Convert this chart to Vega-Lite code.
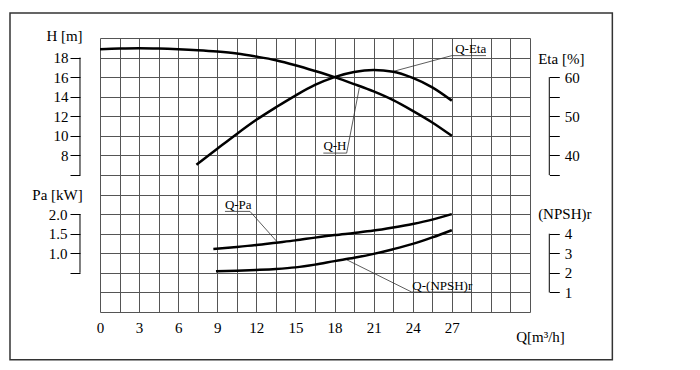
{
  "$schema": "https://vega.github.io/schema/vega-lite/v6.json",
  "width": 430,
  "height": 274,
  "autosize": {"type": "none"},
  "padding": {"left": 100, "top": 38, "right": 170, "bottom": 58},
  "background": "white",
  "config": {
    "view": {"stroke": null},
    "font": "Liberation Serif",
    "axis": {
      "labelFont": "Liberation Serif",
      "titleFont": "Liberation Serif",
      "labelColor": "black",
      "titleColor": "black",
      "labelFontSize": 15,
      "titleFontSize": 15,
      "titleFontWeight": "normal",
      "tickColor": "black",
      "tickWidth": 1,
      "titleAngle": 0,
      "labelOverlap": false,
      "labelFlush": false,
      "tickCount": 100
    },
    "text": {"font": "Liberation Serif"}
  },
  "datasets": {
    "qh": [
      {"Q": 0, "H": 18.85}, {"Q": 1.5, "H": 18.92}, {"Q": 3, "H": 18.95}, {"Q": 4.5, "H": 18.92},
      {"Q": 6, "H": 18.85}, {"Q": 7.5, "H": 18.75}, {"Q": 9, "H": 18.61}, {"Q": 10.5, "H": 18.41},
      {"Q": 12, "H": 18.1}, {"Q": 13.5, "H": 17.73}, {"Q": 15, "H": 17.22}, {"Q": 16.5, "H": 16.63},
      {"Q": 18, "H": 16.0}, {"Q": 19.5, "H": 15.29}, {"Q": 21, "H": 14.54}, {"Q": 22.5, "H": 13.65},
      {"Q": 24, "H": 12.56}, {"Q": 25.5, "H": 11.37}, {"Q": 27, "H": 10.0}
    ],
    "qeta": [
      {"Q": 7.4, "Eta": 37.6}, {"Q": 9, "Eta": 41.7}, {"Q": 10.5, "Eta": 45.5}, {"Q": 12, "Eta": 49.1},
      {"Q": 13.5, "Eta": 52.3}, {"Q": 15, "Eta": 55.3}, {"Q": 16.5, "Eta": 58.0}, {"Q": 18, "Eta": 60.0},
      {"Q": 19.5, "Eta": 61.3}, {"Q": 21, "Eta": 61.8}, {"Q": 22.5, "Eta": 61.4}, {"Q": 24, "Eta": 59.8},
      {"Q": 25.5, "Eta": 57.4}, {"Q": 27, "Eta": 54.0}
    ],
    "qpa": [
      {"Q": 8.7, "Pa": 1.108}, {"Q": 10.5, "Pa": 1.16}, {"Q": 12, "Pa": 1.21}, {"Q": 13.5, "Pa": 1.27},
      {"Q": 15, "Pa": 1.33}, {"Q": 16.5, "Pa": 1.4}, {"Q": 18, "Pa": 1.465}, {"Q": 19.5, "Pa": 1.52},
      {"Q": 21, "Pa": 1.58}, {"Q": 22.5, "Pa": 1.66}, {"Q": 24, "Pa": 1.75}, {"Q": 25.5, "Pa": 1.86},
      {"Q": 27, "Pa": 2.0}
    ],
    "qnpsh": [
      {"Q": 8.9, "NPSH": 2.085}, {"Q": 10.5, "NPSH": 2.11}, {"Q": 12, "NPSH": 2.15}, {"Q": 13.5, "NPSH": 2.2},
      {"Q": 15, "NPSH": 2.28}, {"Q": 16.5, "NPSH": 2.42}, {"Q": 18, "NPSH": 2.6}, {"Q": 19.5, "NPSH": 2.77},
      {"Q": 21, "NPSH": 2.97}, {"Q": 22.5, "NPSH": 3.21}, {"Q": 24, "NPSH": 3.48}, {"Q": 25.5, "NPSH": 3.81},
      {"Q": 27, "NPSH": 4.18}
    ],
    "leaders": [
      {"label": "Q-Eta", "k": 1, "Q": 22.49, "r": 12.29},
      {"label": "Q-Eta", "k": 2, "Q": 27.0, "r": 13.1},
      {"label": "Q-Eta", "k": 3, "Q": 29.62, "r": 13.1},
      {"label": "Q-H", "k": 1, "Q": 19.9, "r": 11.45},
      {"label": "Q-H", "k": 2, "Q": 18.93, "r": 8.12},
      {"label": "Q-H", "k": 3, "Q": 17.14, "r": 8.12},
      {"label": "Q-Pa", "k": 1, "Q": 13.56, "r": 3.61},
      {"label": "Q-Pa", "k": 2, "Q": 11.51, "r": 5.14},
      {"label": "Q-Pa", "k": 3, "Q": 9.59, "r": 5.14},
      {"label": "Q-(NPSH)r", "k": 1, "Q": 18.93, "r": 2.67},
      {"label": "Q-(NPSH)r", "k": 2, "Q": 23.92, "r": 1.02},
      {"label": "Q-(NPSH)r", "k": 3, "Q": 28.53, "r": 1.02}
    ],
    "notes": [
      {"label": "Q-Eta", "Q": 28.45, "r": 13.25},
      {"label": "Q-H", "Q": 18.03, "r": 8.27},
      {"label": "Q-Pa", "Q": 10.61, "r": 5.25},
      {"label": "Q-(NPSH)r", "Q": 26.27, "r": 1.14}
    ]
  },
  "layer": [
    {
      "layer": [
        {
          "data": {"values": [{}]},
          "mark": {"type": "rect", "filled": false, "color": "#333333", "strokeWidth": 1.5},
          "encoding": {
            "x": {"datum": -6.907, "type": "quantitative", "scale": {"domain": [0, 33], "nice": false, "zero": false}},
            "x2": {"datum": 39.32},
            "y": {"datum": 15.28, "type": "quantitative", "scale": {"domain": [0, 14], "nice": false, "zero": false}},
            "y2": {"datum": -2.437}
          }
        },
        {
          "data": {"name": "leaders"},
          "mark": {"type": "line", "color": "#333333", "strokeWidth": 0.8},
          "encoding": {
            "x": {
              "field": "Q",
              "type": "quantitative",
              "scale": {"domain": [0, 33], "nice": false, "zero": false},
              "axis": {
                "values": [0, 1.5, 3, 4.5, 6, 7.5, 9, 10.5, 12, 13.5, 15, 16.5, 18, 19.5, 21, 22.5, 24, 25.5, 27, 28.5, 30, 31.5, 33],
                "tickCount": 100,
                "format": "~g",
                "labelExpr": "(datum.value % 3 == 0 && datum.value <= 27) ? datum.label : ''",
                "grid": true,
                "gridColor": "#555555",
                "gridWidth": 1,
                "gridOpacity": 1,
                "ticks": false,
                "domain": false,
                "labelPadding": 8,
                "title": "Q[m³/h]",
                "titleX": 440,
                "titleY": 29,
                "titleAlign": "center",
                "titleBaseline": "alphabetic"
              }
            },
            "y": {
              "field": "r",
              "type": "quantitative",
              "scale": {"domain": [0, 14], "nice": false, "zero": false},
              "axis": {
                "orient": "left",
                "values": [0, 1, 2, 3, 4, 5, 6, 7, 8, 9, 10, 11, 12, 13, 14],
                "tickCount": 100,
                "grid": true,
                "gridColor": "#555555",
                "gridWidth": 1,
                "gridOpacity": 1,
                "labels": false,
                "ticks": false,
                "domain": false,
                "title": null
              }
            },
            "detail": {"field": "label"},
            "order": {"field": "k"}
          }
        },
        {
          "data": {"name": "notes"},
          "mark": {"type": "text", "align": "center", "baseline": "alphabetic", "fontSize": 13, "color": "black"},
          "encoding": {
            "x": {"field": "Q", "type": "quantitative", "scale": {"domain": [0, 33], "nice": false, "zero": false}},
            "y": {"field": "r", "type": "quantitative", "scale": {"domain": [0, 14], "nice": false, "zero": false}},
            "text": {"field": "label"}
          }
        }
      ]
    },
    {
      "layer": [
        {
          "data": {"name": "qh"},
          "mark": {"type": "line", "interpolate": "monotone", "color": "black", "strokeWidth": 2.5},
          "encoding": {
            "x": {"field": "Q", "type": "quantitative", "scale": {"domain": [0, 33], "nice": false, "zero": false}},
            "y": {
              "field": "H",
              "type": "quantitative",
              "scale": {"domain": [-8, 20], "nice": false, "zero": false},
              "axis": {
                "orient": "left",
                "offset": 20,
                "values": [6, 8, 10, 12, 14, 16, 18],
                "tickCount": 100,
                "format": "d",
                "labelExpr": "datum.value == 6 ? '' : datum.label",
                "domain": false,
                "grid": false,
                "tickSize": 10,
                "labelPadding": 2,
                "title": "H [m]",
                "titleX": -16,
                "titleY": 2,
                "titleAlign": "center",
                "titleBaseline": "alphabetic"
              }
            }
          }
        },
        {
          "data": {"values": [{}]},
          "mark": {"type": "rule", "color": "black", "strokeWidth": 1},
          "encoding": {
            "x": {"datum": -1.535, "type": "quantitative"},
            "y": {"datum": 6, "type": "quantitative"},
            "y2": {"datum": 18}
          }
        }
      ]
    },
    {
      "layer": [
        {
          "data": {"name": "qeta"},
          "mark": {"type": "line", "interpolate": "monotone", "color": "black", "strokeWidth": 2.5},
          "encoding": {
            "x": {"field": "Q", "type": "quantitative", "scale": {"domain": [0, 33], "nice": false, "zero": false}},
            "y": {
              "field": "Eta",
              "type": "quantitative",
              "scale": {"domain": [0, 70], "nice": false, "zero": false},
              "axis": {
                "orient": "right",
                "offset": 19.3,
                "values": [35, 40, 45, 50, 55, 60],
                "tickCount": 100,
                "format": "d",
                "labelExpr": "datum.value % 10 == 0 ? datum.label : ''",
                "domain": false,
                "grid": false,
                "tickSize": 10,
                "labelPadding": 5,
                "title": "Eta [%]",
                "titleX": 11.5,
                "titleY": 25,
                "titleAlign": "center",
                "titleBaseline": "alphabetic"
              }
            }
          }
        },
        {
          "data": {"values": [{}]},
          "mark": {"type": "rule", "color": "black", "strokeWidth": 1},
          "encoding": {
            "x": {"datum": 34.48, "type": "quantitative"},
            "y": {"datum": 35, "type": "quantitative"},
            "y2": {"datum": 60}
          }
        }
      ]
    },
    {
      "layer": [
        {
          "data": {"name": "qpa"},
          "mark": {"type": "line", "interpolate": "monotone", "color": "black", "strokeWidth": 2.5},
          "encoding": {
            "x": {"field": "Q", "type": "quantitative", "scale": {"domain": [0, 33], "nice": false, "zero": false}},
            "y": {
              "field": "Pa",
              "type": "quantitative",
              "scale": {"domain": [-0.5, 6.5], "nice": false, "zero": false},
              "axis": {
                "orient": "left",
                "offset": 20,
                "values": [0.5, 1, 1.5, 2],
                "tickCount": 100,
                "format": ".1f",
                "labelExpr": "datum.value == 0.5 ? '' : datum.label",
                "domain": false,
                "grid": false,
                "tickSize": 10,
                "labelPadding": 3,
                "title": "Pa [kW]",
                "titleX": -23,
                "titleY": 161,
                "titleAlign": "center",
                "titleBaseline": "alphabetic"
              }
            }
          }
        },
        {
          "data": {"values": [{}]},
          "mark": {"type": "rule", "color": "black", "strokeWidth": 1},
          "encoding": {
            "x": {"datum": -1.535, "type": "quantitative"},
            "y": {"datum": 0.5, "type": "quantitative"},
            "y2": {"datum": 2}
          }
        }
      ]
    },
    {
      "layer": [
        {
          "data": {"name": "qnpsh"},
          "mark": {"type": "line", "interpolate": "monotone", "color": "black", "strokeWidth": 2.5},
          "encoding": {
            "x": {"field": "Q", "type": "quantitative", "scale": {"domain": [0, 33], "nice": false, "zero": false}},
            "y": {
              "field": "NPSH",
              "type": "quantitative",
              "scale": {"domain": [0, 14], "nice": false, "zero": false},
              "axis": {
                "orient": "right",
                "offset": 19.3,
                "values": [1, 2, 3, 4],
                "tickCount": 100,
                "format": "d",
                "domain": false,
                "grid": false,
                "tickSize": 10,
                "labelPadding": 5,
                "title": "(NPSH)r",
                "titleX": 15,
                "titleY": 180,
                "titleAlign": "center",
                "titleBaseline": "alphabetic"
              }
            }
          }
        },
        {
          "data": {"values": [{}]},
          "mark": {"type": "rule", "color": "black", "strokeWidth": 1},
          "encoding": {
            "x": {"datum": 34.48, "type": "quantitative"},
            "y": {"datum": 1, "type": "quantitative"},
            "y2": {"datum": 4}
          }
        }
      ]
    }
  ],
  "resolve": {"scale": {"y": "independent"}, "axis": {"y": "independent"}}
}
